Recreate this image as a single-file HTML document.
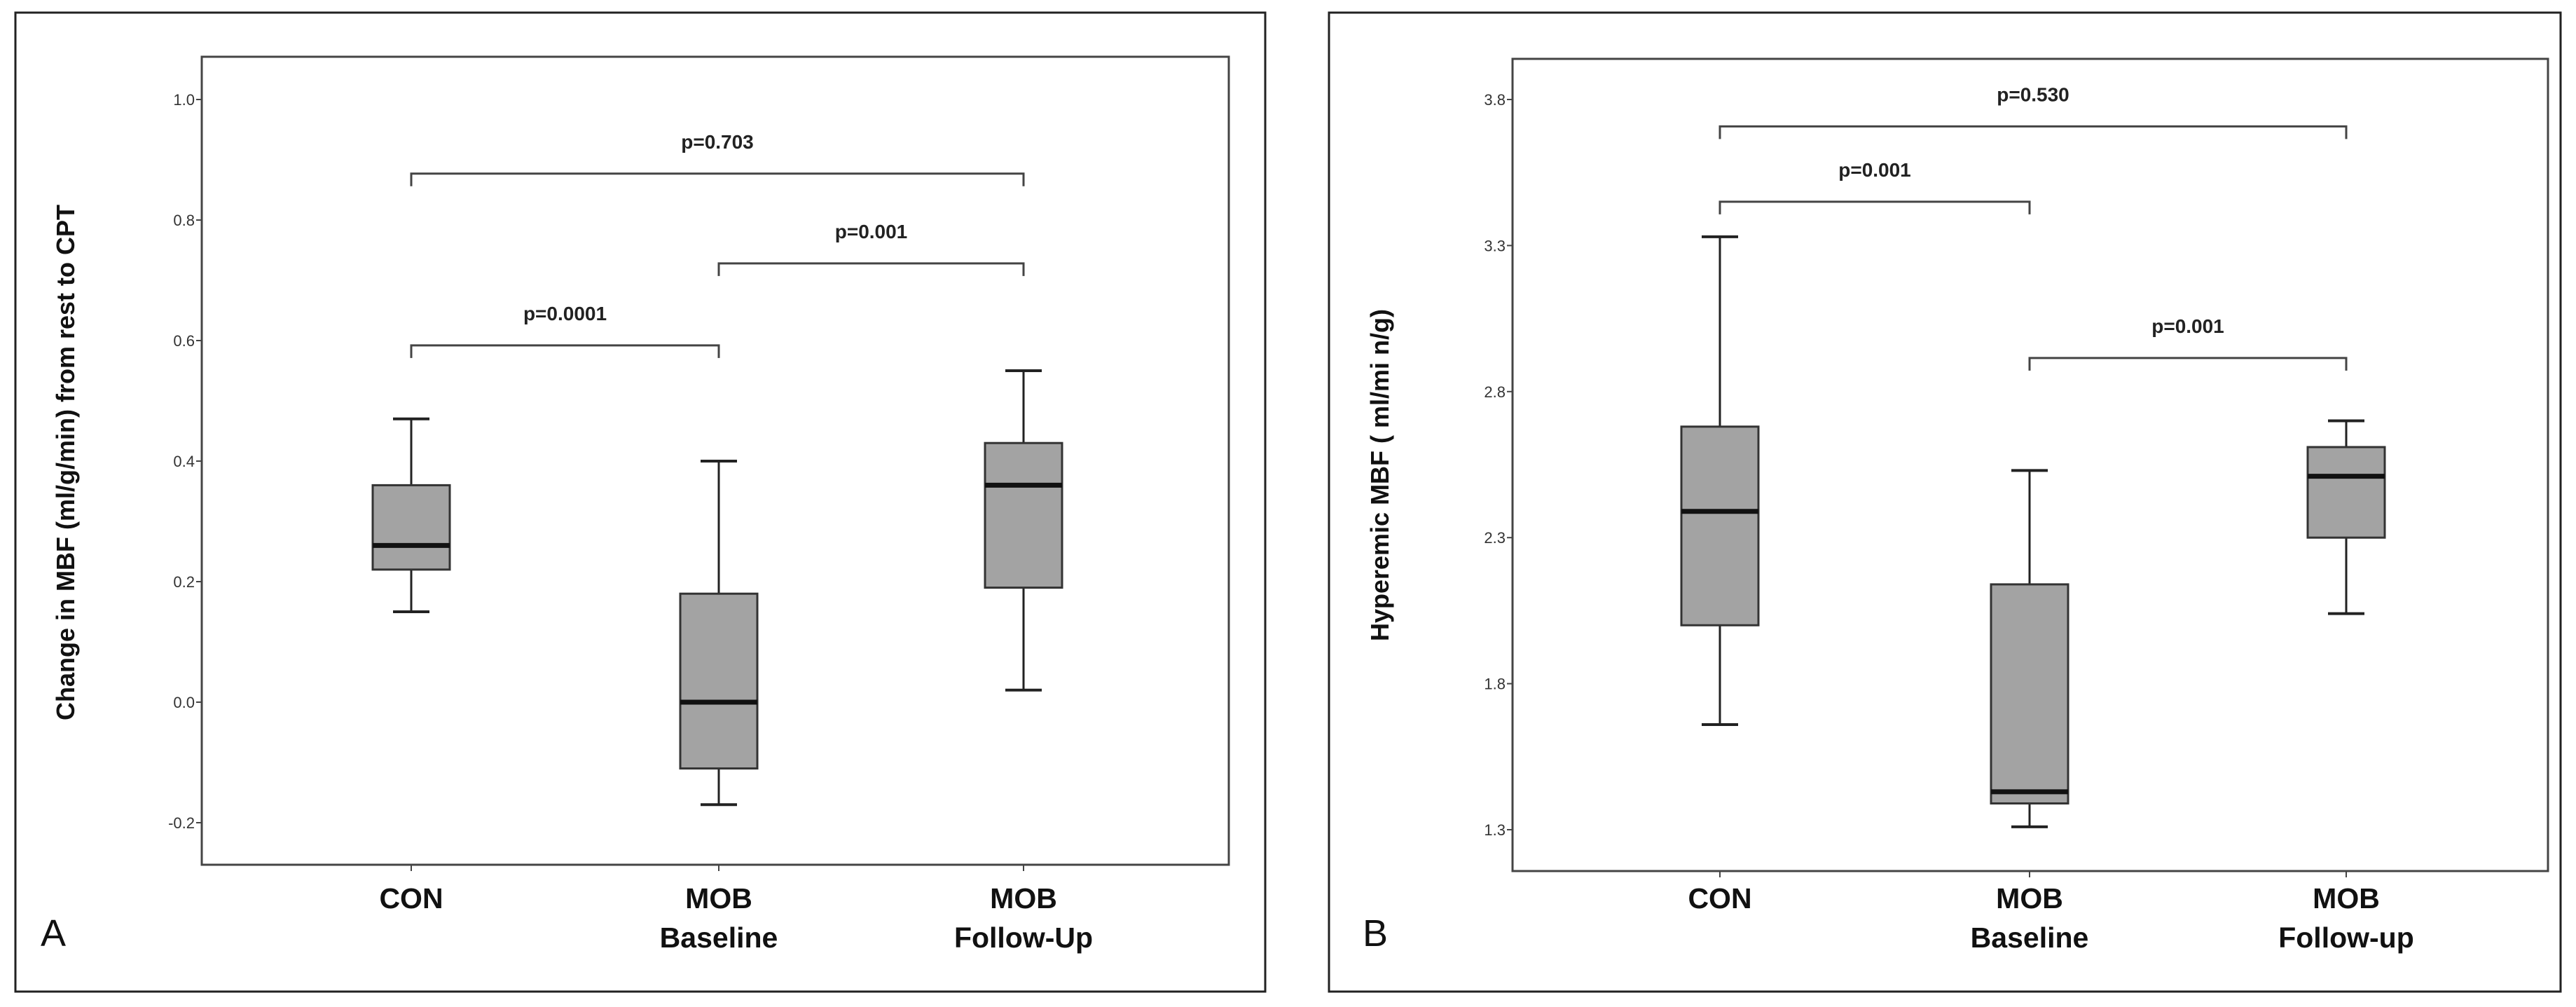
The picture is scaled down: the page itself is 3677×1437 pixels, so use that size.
<!DOCTYPE html>
<html><head><meta charset="utf-8"><style>
html,body{margin:0;padding:0;background:#fff;}
svg{display:block;font-family:"Liberation Sans Narrow","Liberation Sans",sans-serif;}
</style></head><body>
<svg id="fig" width="3677" height="1437" viewBox="0 0 3677 1437" xmlns="http://www.w3.org/2000/svg"></svg>
<script>
// Panel A data
const catsA = ["CON", "MOB|Baseline", "MOB|Follow-Up"];
const minA = [0.15, -0.17, 0.02];
const q1A = [0.22, -0.11, 0.19];
const medA = [0.26, 0.00, 0.36];
const q3A = [0.36, 0.18, 0.43];
const maxA = [0.47, 0.40, 0.55];
const ticksA = [1.0, 0.8, 0.6, 0.4, 0.2, 0.0, -0.2];
const tickLabelsA = ["1.0", "0.8", "0.6", "0.4", "0.2", "0.0", "-0.2"];
const bracketFromA = [0, 1, 0];
const bracketToA = [2, 2, 1];
const bracketValA = [0.877, 0.728, 0.592];
const bracketTextA = ["p=0.703", "p=0.001", "p=0.0001"];
// Panel B data
const catsB = ["CON", "MOB|Baseline", "MOB|Follow-up"];
const minB = [1.66, 1.31, 2.04];
const q1B = [2.00, 1.39, 2.30];
const medB = [2.39, 1.43, 2.51];
const q3B = [2.68, 2.14, 2.61];
const maxB = [3.33, 2.53, 2.70];
const ticksB = [3.8, 3.3, 2.8, 2.3, 1.8, 1.3];
const tickLabelsB = ["3.8", "3.3", "2.8", "2.3", "1.8", "1.3"];
const bracketFromB = [0, 0, 1];
const bracketToB = [2, 1, 2];
const bracketValB = [3.708, 3.45, 2.915];
const bracketTextB = ["p=0.530", "p=0.001", "p=0.001"];

const NS = "http://www.w3.org/2000/svg";
const svg = document.getElementById("fig");
function mk(tag, attrs, parent, text) {
  const e = document.createElementNS(NS, tag);
  for (const k in attrs) e.setAttribute(k, attrs[k]);
  if (text !== undefined) e.textContent = text;
  (parent || svg).appendChild(e);
  return e;
}

function panel(cfg) {
  const g = mk("g", {});
  
  
  const border = mk("rect", {x: cfg.ox, y: cfg.oy, width: cfg.ow, height: cfg.oh, fill: "none", stroke: "#222", "stroke-width": 3}, g);
  
  
  const frame = mk("rect", {x: cfg.px, y: cfg.py, width: cfg.pw, height: cfg.ph, fill: "none", stroke: "#444", "stroke-width": 3}, g);
  
  
  const y = v => cfg.y0 + (cfg.v0 - v) * cfg.k;
  const x = i => cfg.cx[i];
  cfg.ticks.forEach((t, i) => {
    const tk = mk("line", {x1: cfg.px - 8, x2: cfg.px, y1: y(t), y2: y(t), stroke: "#444", "stroke-width": 2}, g);
    
    
    const tl = mk("text", {x: cfg.px - 10, y: y(t) + 8, "text-anchor": "end", "font-size": 22, fill: "#333"}, g, cfg.tickLabels[i]);
    
    
  });
  const yt = mk("text", {x: 0, y: 0, "text-anchor": "middle", "font-size": 36, "font-weight": "bold", fill: "#111",
    transform: `translate(${cfg.ytx},${cfg.yty}) rotate(-90)`}, g, cfg.ytitle);
  
  
  cfg.cats.forEach((c, i) => {
    const xt = mk("line", {x1: x(i), x2: x(i), y1: cfg.py + cfg.ph, y2: cfg.py + cfg.ph + 9, stroke: "#444", "stroke-width": 2}, g);
    
    
    const lines = c.split("|");
    lines.forEach((ln, j) => {
      const tl = mk("text", {x: x(i), y: 1296 + j * 56, "text-anchor": "middle", "font-size": 41, "font-weight": "bold", fill: "#111"}, g, ln);
      
      
    });
    const bw = 110, cap = 52;
    const wh = mk("line", {x1: x(i), x2: x(i), y1: y(cfg.max[i]), y2: y(cfg.min[i]), stroke: "#222", "stroke-width": 3}, g);
    
    
    [cfg.max[i], cfg.min[i]].forEach(v => {
      const cp = mk("line", {x1: x(i) - cap / 2, x2: x(i) + cap / 2, y1: y(v), y2: y(v), stroke: "#222", "stroke-width": 4}, g);
      
      
    });
    const bx = mk("rect", {x: x(i) - bw / 2, y: y(cfg.q3[i]), width: bw, height: y(cfg.q1[i]) - y(cfg.q3[i]), fill: "#a3a3a3", stroke: "#333", "stroke-width": 3}, g);
    
    
    const md = mk("line", {x1: x(i) - bw / 2, x2: x(i) + bw / 2, y1: y(cfg.med[i]), y2: y(cfg.med[i]), stroke: "#111", "stroke-width": 7}, g);
    
    
  });
  cfg.bv.forEach((v, i) => {
    const xa = x(cfg.bf[i]), xb = x(cfg.bt[i]), yy = y(v);
    const br = mk("path", {d: `M${xa},${yy + 18} V${yy} H${xb} V${yy + 18}`, fill: "none", stroke: "#444", "stroke-width": 3}, g);
    
    
    const bt = mk("text", {x: (xa + xb) / 2, y: yy - 36, "text-anchor": "middle", "font-size": 28, "font-weight": "bold", fill: "#222"}, g, cfg.bt2[i]);
    
    
  });
  const pl = mk("text", {x: cfg.lx, y: 1350, "font-size": 54, fill: "#111", "font-family": "Liberation Sans, sans-serif"}, g, cfg.letter);
  
  
}

panel({name: "panel-a", ox: 22, oy: 18, ow: 1784, oh: 1397, px: 288, py: 81, pw: 1466, ph: 1153,
  y0: 142, v0: 1.0, k: 860, cx: [587, 1026, 1461],
  ticks: ticksA, tickLabels: tickLabelsA, ytitle: "Change in MBF (ml/g/min) from rest to CPT", ytx: 106, yty: 660,
  cats: catsA, min: minA, q1: q1A, med: medA, q3: q3A, max: maxA,
  bf: bracketFromA, bt: bracketToA, bv: bracketValA, bt2: bracketTextA, lx: 58, letter: "A"});
panel({name: "panel-b", ox: 1897, oy: 18, ow: 1758, oh: 1397, px: 2159, py: 84, pw: 1478, ph: 1159,
  y0: 142, v0: 3.8, k: 416.8, cx: [2455, 2897, 3349],
  ticks: ticksB, tickLabels: tickLabelsB, ytitle: "Hyperemic MBF ( ml/mi n/g)", ytx: 1982, yty: 678,
  cats: catsB, min: minB, q1: q1B, med: medB, q3: q3B, max: maxB,
  bf: bracketFromB, bt: bracketToB, bv: bracketValB, bt2: bracketTextB, lx: 1945, letter: "B"});
</script>
</body></html>
